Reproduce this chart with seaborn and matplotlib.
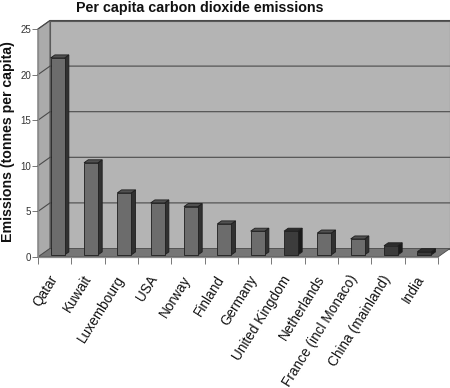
import numpy as np
import pandas as pd
import matplotlib
matplotlib.use("Agg")
import matplotlib.pyplot as plt
import seaborn as sns
from matplotlib.patches import Polygon
from matplotlib.lines import Line2D
from matplotlib.transforms import IdentityTransform, Affine2D

countries = ["Qatar", "Kuwait", "Luxembourg", "USA", "Norway", "Finland", "Germany",
             "United Kingdom", "Netherlands", "France (incl Monaco)", "China (mainland)", "India"]
emissions = [21.6, 10.1, 6.8, 5.7, 5.3, 3.4, 2.6, 2.6, 2.4, 1.75, 1.0, 0.35]
bar_colors = ["#6c6c6c"] * 7 + ["#3c3c3c", "#6c6c6c", "#6c6c6c", "#3c3c3c", "#3c3c3c"]
yticks = [0, 5, 10, 15, 20, 25]

sns.set_style("white")
plt.rcParams['font.family'] = ['Liberation Sans', 'DejaVu Sans']

W, H = 450, 388
fig = plt.figure(figsize=(W / 100, H / 100), dpi=100)
ax = fig.add_axes([38 / W, 1 - 257 / H, 400 / W, 228 / H])

df = pd.DataFrame({"country": countries, "emissions": emissions})
sns.barplot(data=df, x="country", y="emissions", hue="country", palette=bar_colors,
            width=0.42, legend=False, ax=ax, edgecolor="#1e1e1e", linewidth=0.6,
            saturation=1, zorder=5)
ax.set_xlim(-0.5, len(countries) - 0.5)
ax.set_ylim(0, 25)
for s in ax.spines.values():
    s.set_visible(False)
ax.set_xlabel("")
ax.set_ylabel("")

DX, DY = 12.0, 8.5


def P(x, y, d):
    px, py = ax.transData.transform((x, y))
    return (px + DX * d, py + DY * d)


def poly(pts, **kw):
    p = Polygon(pts, closed=True, transform=IdentityTransform(), clip_on=False, **kw)
    ax.add_artist(p)
    return p


x0, x1 = -0.5, len(countries) - 0.5
ytop = yticks[-1]
wall_c = "#b4b4b4"
# back wall
poly([P(x0, 0, 1), P(x1, 0, 1), P(x1, ytop, 1), P(x0, ytop, 1)],
     facecolor=wall_c, edgecolor="#5a5a5a", linewidth=0.8, zorder=0)
# side wall
poly([P(x0, 0, 0), P(x0, ytop, 0), P(x0, ytop, 1), P(x0, 0, 1)],
     facecolor="#ababab", edgecolor="#5a5a5a", linewidth=0.8, zorder=0.5)
# gridlines
for yv in yticks[1:]:
    pts = [P(x0, yv, 0), P(x0, yv, 1), P(x1, yv, 1)]
    ax.add_artist(Line2D([p[0] for p in pts], [p[1] for p in pts], transform=IdentityTransform(),
                         color="#4a4a4a", linewidth=0.8, clip_on=False, zorder=1))
# floor
poly([P(x0, 0, 0), P(x1, 0, 0), P(x1, 0, 1), P(x0, 0, 1)],
     facecolor="#767676", edgecolor="#4a4a4a", linewidth=0.6, zorder=2)
# front axes lines
pts = [P(x0, ytop, 0), P(x0, 0, 0), P(x1, 0, 0)]
ax.add_artist(Line2D([p[0] for p in pts], [p[1] for p in pts], transform=IdentityTransform(),
                     color="#8a8a8a", linewidth=0.9, clip_on=False, zorder=3))

# 3D bars
d0, d1 = 0.25, 0.6
for patch, col in zip(ax.patches, bar_colors):
    bx, bw, bh = patch.get_x(), patch.get_width(), patch.get_height()
    patch.set_transform(ax.transData + Affine2D().translate(DX * d0, DY * d0))
    rgb = np.array(matplotlib.colors.to_rgb(col))
    poly([P(bx + bw, 0, d0), P(bx + bw, bh, d0), P(bx + bw, bh, d1), P(bx + bw, 0, d1)],
         facecolor=rgb * 0.45, edgecolor="#1e1e1e", linewidth=0.6, zorder=4)
    poly([P(bx, bh, d0), P(bx + bw, bh, d0), P(bx + bw, bh, d1), P(bx, bh, d1)],
         facecolor=rgb * 0.75, edgecolor="#1e1e1e", linewidth=0.6, zorder=4)

# ticks
ax.set_yticks(yticks)
ax.set_yticklabels([str(v) for v in yticks], fontsize=7, color="#333333")
ax.tick_params(axis="y", left=True, length=4, width=0.7, color="#777777", pad=1)
ax.set_xticks(range(len(countries)))
ax.set_xticks(np.arange(-0.5, len(countries), 1.0), minor=True)
ax.set_xticklabels(countries, rotation=58, ha="right", va="center", rotation_mode="anchor",
                   fontsize=9.8, color="#111111")
for lbl in ax.get_xticklabels():
    lbl.set_transform(lbl.get_transform() + Affine2D().translate(-4, 0))
ax.tick_params(axis="x", which="major", length=0, pad=14)
ax.tick_params(axis="x", which="minor", bottom=True, length=5, width=0.7, color="#777777")

fig.text(200 / W, 1 - 8 / H, "Per capita carbon dioxide emissions", ha="center", va="center",
         fontsize=10.3, fontweight="bold", color="#111111")
fig.text(8 / W, 1 - 142 / H, "Emissions (tonnes per capita)", ha="center", va="center",
         rotation=90, fontsize=10.2, fontweight="bold", color="#111111")

fig.savefig("out.png", dpi=100, facecolor="white")
